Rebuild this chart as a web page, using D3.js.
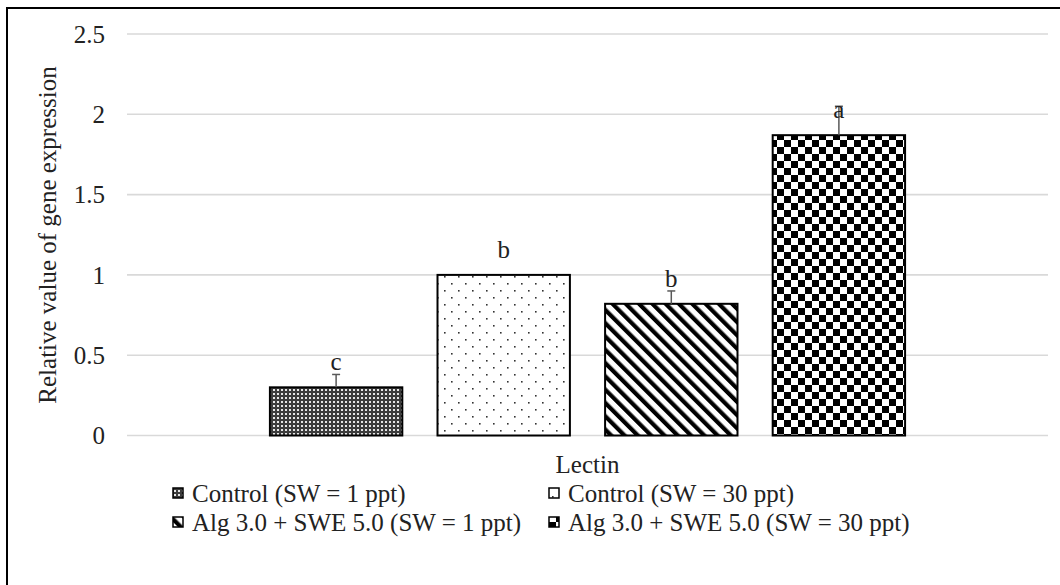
<!DOCTYPE html>
<html>
<head>
<meta charset="utf-8">
<script src="https://cdn.jsdelivr.net/npm/d3@7"></script>
<style>
  html, body { margin: 0; padding: 0; background: #fff; }
  text { font-family: "Liberation Serif", "Times New Roman", serif; fill: #222; }
</style>
</head>
<body>
<svg id="chart" width="1060" height="585"></svg>
<script>
// data
const categories = ['Lectin'];
const series = [
  'Control (SW = 1 ppt)',
  'Control (SW = 30 ppt)',
  'Alg 3.0 + SWE 5.0 (SW = 1 ppt)',
  'Alg 3.0 + SWE 5.0 (SW = 30 ppt)'
];
const values = [0.30, 1.0, 0.82, 1.87];
const errors = [0.08, 0, 0.08, 0.18];
const letters = ['c', 'b', 'b', 'a'];
const yTicks = [0, 0.5, 1, 1.5, 2, 2.5];

const svg = d3.select('#chart');
const margin = { left: 127, right: 12, top: 34, bottom: 149 };
const W = 1060, H = 585;
const fs = 25;

// outer frame (right and bottom edges run past the picture)
svg.append('rect')
  .attr('x', 7).attr('y', 8)
  .attr('width', 1100).attr('height', 640)
  .attr('fill', '#fff').attr('stroke', '#000').attr('stroke-width', 2);

// patterns
const defs = svg.append('defs');

const pDark = defs.append('pattern').attr('id', 'pat0')
  .attr('patternUnits', 'userSpaceOnUse').attr('width', 4).attr('height', 4);
pDark.append('rect').attr('width', 4).attr('height', 4).attr('fill', '#3c3c3c');
pDark.append('rect').attr('x', 1).attr('y', 1).attr('width', 2).attr('height', 2).attr('fill', '#e6e6e6');

const pDots = defs.append('pattern').attr('id', 'pat1')
  .attr('patternUnits', 'userSpaceOnUse').attr('width', 14).attr('height', 14);
pDots.append('rect').attr('width', 14).attr('height', 14).attr('fill', '#fff');
pDots.append('rect').attr('x', 3).attr('y', 3).attr('width', 1.6).attr('height', 1.6).attr('fill', '#333');
pDots.append('rect').attr('x', 10).attr('y', 10).attr('width', 1.6).attr('height', 1.6).attr('fill', '#333');

const pDiag = defs.append('pattern').attr('id', 'pat2')
  .attr('patternUnits', 'userSpaceOnUse').attr('width', 9.4).attr('height', 9.4)
  .attr('patternTransform', 'rotate(-45)');
pDiag.append('rect').attr('width', 9.4).attr('height', 9.4).attr('fill', '#fff');
pDiag.append('rect').attr('width', 4.2).attr('height', 9.4).attr('fill', '#000');

const pCheck = defs.append('pattern').attr('id', 'pat3')
  .attr('patternUnits', 'userSpaceOnUse').attr('width', 14).attr('height', 14);
pCheck.append('rect').attr('width', 14).attr('height', 14).attr('fill', '#fff');
pCheck.append('rect').attr('width', 7).attr('height', 7).attr('fill', '#000');
pCheck.append('rect').attr('x', 7).attr('y', 7).attr('width', 7).attr('height', 7).attr('fill', '#000');

// scales
const y = d3.scaleLinear().domain([0, 2.5]).range([H - margin.bottom - 0.5, margin.top]);
const x0 = d3.scaleBand().domain(categories)
  .range([margin.left, W - margin.right]).paddingOuter(0.225).paddingInner(0);
const x1 = d3.scaleBand().domain(series)
  .range([0, x0.bandwidth()]).paddingInner(0.21).paddingOuter(0);

// gridlines
svg.append('g').selectAll('line').data(yTicks).join('line')
  .attr('x1', margin.left).attr('x2', W - margin.right)
  .attr('y1', d => y(d)).attr('y2', d => y(d))
  .attr('stroke', '#d9d9d9').attr('stroke-width', 1.6);

// y labels
svg.append('g').selectAll('text').data(yTicks).join('text')
  .attr('x', 105).attr('y', d => y(d))
  .attr('dy', '0.35em').attr('text-anchor', 'end')
  .attr('font-size', fs)
  .text(d => d);

svg.append('text')
  .attr('transform', 'translate(56,235) rotate(-90)')
  .attr('text-anchor', 'middle')
  .attr('font-size', fs)
  .text('Relative value of gene expression');

// bars
const rows = series.map((s, i) => ({ s, i, v: values[i], e: errors[i], l: letters[i] }));
const g = svg.append('g');
const cat = categories[0];
const cx = d => x0(cat) + x1(d.s) + x1.bandwidth() / 2;

g.selectAll('rect.bar').data(rows).join('rect')
  .attr('class', 'bar')
  .attr('x', d => x0(cat) + x1(d.s))
  .attr('y', d => y(d.v))
  .attr('width', x1.bandwidth())
  .attr('height', d => y(0) - y(d.v))
  .attr('fill', d => `url(#pat${d.i})`)
  .attr('stroke', '#000').attr('stroke-width', 2);

// error bars (upper only)
const eb = g.selectAll('g.err').data(rows.filter(d => d.e > 0)).join('g').attr('class', 'err');
eb.append('line')
  .attr('x1', cx).attr('x2', cx)
  .attr('y1', d => y(d.v)).attr('y2', d => y(d.v + d.e))
  .attr('stroke', '#595959').attr('stroke-width', 1.5);
eb.append('line')
  .attr('x1', d => cx(d) - 4).attr('x2', d => cx(d) + 4)
  .attr('y1', d => y(d.v + d.e)).attr('y2', d => y(d.v + d.e))
  .attr('stroke', '#595959').attr('stroke-width', 1.5);

// significance letters
g.selectAll('text.lab').data(rows).join('text')
  .attr('class', 'lab')
  .attr('x', cx)
  .attr('y', d => y(d.v) - 17)
  .attr('text-anchor', 'middle')
  .attr('font-size', fs)
  .text(d => d.l);

// category label
svg.append('text')
  .attr('x', x0(cat) + x0.bandwidth() / 2).attr('y', 473)
  .attr('text-anchor', 'middle')
  .attr('font-size', fs)
  .text(cat);

// legend
const legX = [173, 549];
const legY = [493, 522];
const leg = svg.append('g').selectAll('g').data(rows).join('g')
  .attr('transform', d => `translate(${legX[d.i % 2]},${legY[Math.floor(d.i / 2)]})`);
leg.append('rect')
  .attr('x', 0).attr('y', -5).attr('width', 10).attr('height', 10)
  .attr('fill', d => `url(#pat${d.i})`)
  .attr('stroke', '#000').attr('stroke-width', 1.5);
leg.append('text')
  .attr('x', 19).attr('dy', '0.35em')
  .attr('font-size', fs)
  .text(d => d.s);
</script>
</body>
</html>
